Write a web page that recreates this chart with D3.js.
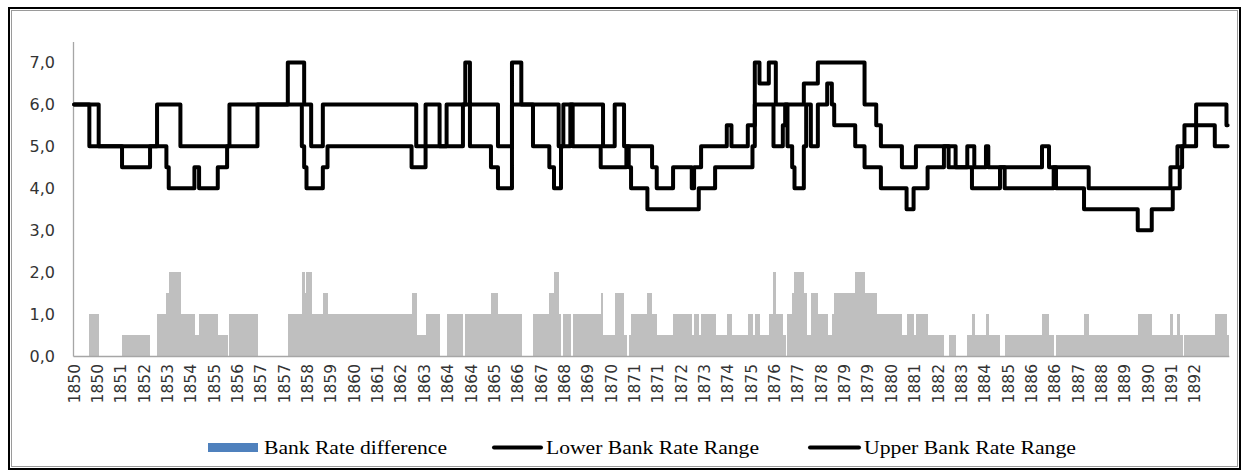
<!DOCTYPE html>
<html>
<head>
<meta charset="utf-8">
<script src="https://cdn.jsdelivr.net/npm/d3@7"></script>
<style>
  html, body { margin: 0; padding: 0; background: #ffffff; }
  svg { display: block; }
</style>
</head>
<body>
<svg id="chart" width="1248" height="476"></svg>
<script>
// ---------------- DATA ----------------
// category axis: 495 observations, one label every 10 observations
const nCategories = 495;
const labelEvery = 10;
const tickLabels = [
  "1850","1850","1851","1852","1853","1854","1855","1856","1857","1857",
  "1858","1859","1860","1861","1862","1863","1864","1864","1865","1866",
  "1867","1868","1869","1870","1871","1871","1872","1873","1874","1875",
  "1876","1877","1878","1879","1879","1880","1881","1882","1883","1884",
  "1885","1886","1886","1887","1888","1889","1890","1891","1892"
];
// Upper Bank Rate Range: [observation index where value starts, rate %]
const upperChanges = [
  [0,6],[11,5],[36,6],[46,5],[67,6],[92,7],[99,6],[102,5],[107,6],[147,5],
  [151,6],[157,5],[160,6],[168,7],[170,6],[182,5],[188,7],[192,6],[208,5],[210,6],
  [227,5],[232,6],[236,5],[248,4.5],[250,4],[257,4.5],[265,4],[266,4.5],[269,5],[280,5.5],
  [282,5],[289,5.5],[292,7],[294,6.5],[298,7],[301,6],[313,6.5],[319,7],[339,6],[344,5.5],
  [346,5],[355,4.5],[361,5],[378,4.5],[383,5],[386,4.5],[391,5],[392,4.5],[415,5],[418,4.5],
  [435,4],[470,4.5],[473,5],[476,5.5],[481,6],[494,5.5]
];
// Lower Bank Rate Range: [observation index where value starts, rate %]
const lowerChanges = [
  [0,6],[7,5],[21,4.5],[33,5],[40,4.5],[41,4],[52,4.5],[54,4],[62,4.5],[66,5],
  [79,6],[98,5],[99,4.5],[100,4],[107,4.5],[109,5],[145,4.5],[151,5],[167,6],[170,5],
  [179,4.5],[182,4],[188,6],[197,5],[204,4.5],[206,4],[209,5],[213,6],[214,5],[226,4.5],
  [237,5],[238,4.5],[239,4],[246,3.5],[268,4],[275,4.5],[291,5],[292,6],[300,5],[304,5.5],
  [305,6],[306,5],[308,4.5],[309,4],[313,5],[314,6],[316,5],[319,6],[323,6.5],[325,6],
  [326,5.5],[335,5],[339,4.5],[346,4],[357,3.5],[360,4],[366,4.5],[373,5],[375,4.5],[385,4],
  [397,4.5],[399,4],[420,4.5],[421,4],[433,3.5],[456,3],[462,3.5],[471,4],[474,4.5],[475,5],
  [481,5.5],[489,5]
];
const yTicks = [0,1,2,3,4,5,6,7];
const yMax = 7.5;
const seriesNames = ["Bank Rate difference","Lower Bank Rate Range","Upper Bank Rate Range"];

// ---------------- HELPERS ----------------
function expand(changes, n) {
  const out = [];
  let j = 0;
  for (let i = 0; i < n; i++) {
    while (j + 1 < changes.length && changes[j + 1][0] <= i) j++;
    out.push(changes[j][1]);
  }
  return out;
}
const upper = expand(upperChanges, nCategories);
const lower = expand(lowerChanges, nCategories);
const diff = upper.map((u, i) => Math.max(0, +(u - lower[i]).toFixed(2)));

// ---------------- LAYOUT ----------------
const svg = d3.select("#chart");
const plot = { left: 73, right: 1228.8, top: 41.5, bottom: 356 };

const x = d3.scaleBand().domain(d3.range(nCategories)).range([plot.left, plot.right]).padding(0);
const y = d3.scaleLinear().domain([0, yMax]).range([plot.bottom, plot.top]);
const bw = x.bandwidth();

// outer frame
svg.append("rect").attr("x", 9).attr("y", 8).attr("width", 1231).attr("height", 461)
  .attr("fill", "none").attr("stroke", "#000").attr("stroke-width", 2);
svg.append("rect").attr("x", 11.5).attr("y", 10.5).attr("width", 1226).attr("height", 456)
  .attr("fill", "none").attr("stroke", "#9a9a9a").attr("stroke-width", 1);

// bars
svg.append("g").selectAll("rect").data(diff).join("rect")
  .attr("x", (d, i) => x(i))
  .attr("width", bw + 0.4)
  .attr("y", d => y(d))
  .attr("height", d => y(0) - y(d))
  .attr("fill", "#BFBFBF")
  .attr("shape-rendering", "crispEdges");

// axes
const yAxis = svg.append("g").attr("transform", `translate(${plot.left},0)`)
  .call(d3.axisLeft(y).tickValues(yTicks).tickSize(0).tickSizeOuter(0).tickPadding(18)
    .tickFormat(d => d.toFixed(1).replace(".", ",")));
yAxis.select(".domain").attr("stroke", "#A6A6A6").attr("stroke-width", 1.3);
yAxis.selectAll("text").attr("font-family", "DejaVu Sans").attr("font-size", 16).attr("fill", "#333");

const xAxis = svg.append("g").attr("transform", `translate(0,${plot.bottom})`)
  .call(d3.axisBottom(x).tickValues(d3.range(0, nCategories, labelEvery)).tickSize(0).tickSizeOuter(0)
    .tickFormat(i => tickLabels[i / labelEvery]));
xAxis.select(".domain").attr("stroke", "#A6A6A6").attr("stroke-width", 1.3);
xAxis.selectAll("text")
  .attr("font-family", "DejaVu Sans").attr("font-size", 15.5).attr("fill", "#333")
  .attr("transform", "rotate(-90)")
  .attr("x", -8).attr("y", 0).attr("dy", "0.35em")
  .style("text-anchor", "end");

// lines (stepped between observations)
const line = d3.line().x((d, i) => x(i) + bw / 2).y(d => y(d)).curve(d3.curveStep);
[lower, upper].forEach(s => {
  svg.append("path").datum(s).attr("d", line)
    .attr("fill", "none").attr("stroke", "#000").attr("stroke-width", 4)
    .attr("stroke-linejoin", "round").attr("stroke-linecap", "round");
});

// legend
const lg = svg.append("g").attr("font-family", "Liberation Serif").attr("font-size", 18).attr("fill", "#000");
lg.append("rect").attr("x", 208).attr("y", 443).attr("width", 50).attr("height", 9).attr("fill", "#4F81BD");
lg.append("line").attr("x1", 494).attr("x2", 541).attr("y1", 447.5).attr("y2", 447.5)
  .attr("stroke", "#000").attr("stroke-width", 4).attr("stroke-linecap", "round");
lg.append("line").attr("x1", 810).attr("x2", 859).attr("y1", 447.5).attr("y2", 447.5)
  .attr("stroke", "#000").attr("stroke-width", 4).attr("stroke-linecap", "round");
const legendText = [[264, 183], [546, 213], [864, 212]];
seriesNames.forEach((name, k) => {
  lg.append("text").attr("x", legendText[k][0]).attr("y", 453.5)
    .attr("textLength", legendText[k][1]).attr("lengthAdjust", "spacingAndGlyphs")
    .text(name);
});
</script>
</body>
</html>
